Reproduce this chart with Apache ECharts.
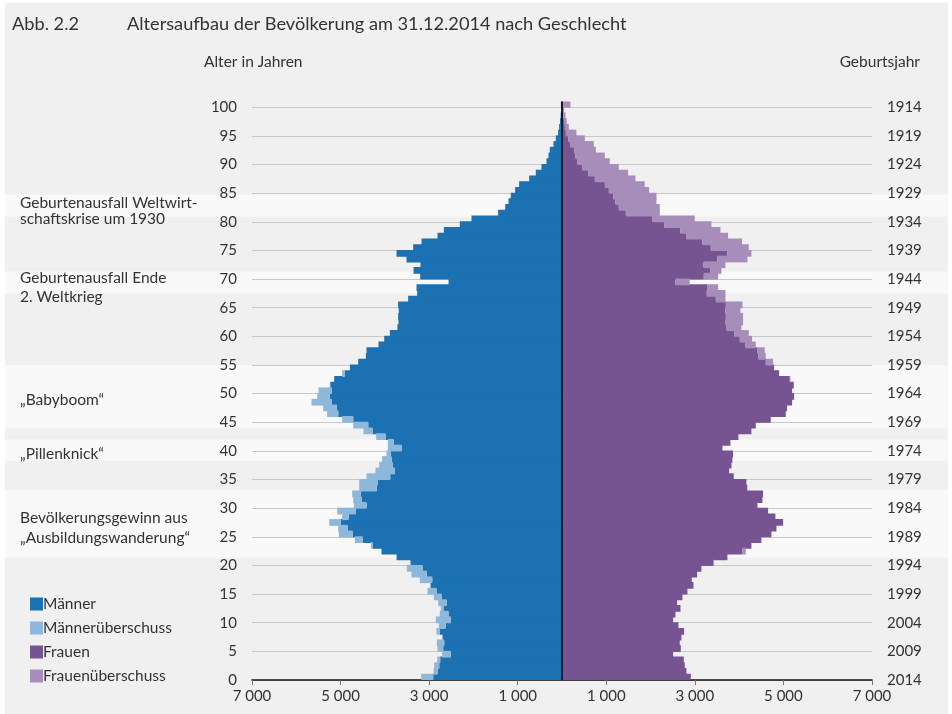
<!DOCTYPE html>
<html>
<head>
<meta charset="utf-8">
<title>Altersaufbau 2014</title>
<script src="https://cdn.jsdelivr.net/npm/echarts@6/dist/echarts.min.js"></script>
<style>
    body { margin: 0; background: #fff; }
    #main { position: absolute; left: 5px; top: 3px; width: 943px; height: 711px; background: #eff0ef; }
</style>
</head>
<body>
<div id="main"></div>
<script>
// Alter 0 bis 100 (Kategorien der y-Achse)
var alter = [];
for (var i = 0; i <= 100; i++) { alter.push(String(i)); }

// Maenner je Altersjahr (0..100)
var maenner = [
    3180, 2900, 2886, 2818, 2706, 2811, 2826, 2698, 2834, 2781,
    2849, 2759, 2736, 2796, 2894, 3037, 2970, 3210, 3398, 3504,
    3420, 3736, 4076, 4316, 4677, 5039, 5054, 5257, 4964, 5077,
    4700, 4715, 4737, 4579, 4579, 4414, 4211, 4128, 4061, 3963,
    3932, 3932, 4196, 4482, 4715, 4964, 5303, 5393, 5656, 5528,
    5498, 5242, 5144, 4964, 4790, 4602, 4429, 4414, 4143, 4015,
    3887, 3716, 3693, 3700, 3686, 3700, 3474, 3270, 3285, 2562,
    3202, 3353, 3195, 3511, 3736, 3360, 3172, 2811, 2668, 2307,
    2044, 1442, 1283, 1208, 1156, 1058, 968, 742, 591, 464,
    350, 305, 275, 193, 140, 87, 65, 45, 30, 20,
    25
];

// Frauen je Altersjahr (0..100)
var frauen = [
    2908, 2810, 2772, 2750, 2509, 2682, 2659, 2697, 2757, 2629,
    2509, 2562, 2675, 2599, 2720, 2833, 2968, 2930, 3051, 3148,
    3434, 3735, 4149, 4277, 4503, 4729, 4842, 4992, 4819, 4654,
    4413, 4525, 4540, 4183, 4164, 3878, 3773, 3826, 3848, 3863,
    3623, 3803, 3984, 4277, 4375, 4714, 5052, 5082, 5196, 5241,
    5196, 5233, 5158, 4902, 4789, 4766, 4601, 4578, 4375, 4292,
    4217, 4051, 4089, 4089, 4029, 4074, 3690, 3690, 3525, 2885,
    3525, 3600, 3690, 4187, 4277, 4217, 4066, 3750, 3577, 3374,
    2998, 2208, 2208, 2133, 2133, 1967, 1869, 1658, 1493, 1282,
    1079, 966, 763, 718, 515, 326, 154, 108, 78, 48,
    191
];

// Achsenbeschriftungen
var alterTicks = [0, 5, 10, 15, 20, 25, 30, 35, 40, 45, 50, 55, 60, 65, 70, 75, 80, 85, 90, 95, 100];
var xTicks = [-7000, -5000, -3000, -1000, 1000, 3000, 5000, 7000];
var stichjahr = 2014;

// hervorgehobene Altersbereiche (weisse Baender)
var baender = [[80.9, 84.7], [67.5, 71.3], [44, 55], [38.3, 42], [21.4, 33.2]];

// Anmerkungen links: [Text, Alter (Position)]
var anmerkungen = [
    ['Geburtenausfall Weltwirt-', 83.3],
    ['schaftskrise um 1930', 80.4],
    ['Geburtenausfall Ende', 70.2],
    ['2. Weltkrieg', 66.8],
    ['\u201EBabyboom\u201C', 48.9],
    ['\u201EPillenknick\u201C', 39.45],
    ['Bevölkerungsgewinn aus', 28.35],
    ['\u201EAusbildungswanderung\u201C', 24.85]
];

var farben = ['#1b71b2', '#8db8dc', '#765391', '#a68dba'];
var schrift = 'Lato, "Open Sans", sans-serif';

// gemeinsamer Teil und Ueberschuss je Geschlecht (kein Ueberschuss = leer)
var gemeinsam = maenner.map(function (m, i) { return Math.min(m, frauen[i]); });
var mUeber = maenner.map(function (m, i) { return m > frauen[i] ? m - frauen[i] : null; });
var fUeber = frauen.map(function (f, i) { return f > maenner[i] ? f - maenner[i] : null; });

var myChart = echarts.init(document.getElementById('main'));

function tausender(v) {
    return String(Math.abs(v)).replace(/\B(?=(\d{3})+(?!\d))/g, ' ');
}

// Balken etwas hoeher als das Band, damit keine Fugen zwischen den Altersjahren bleiben
var balkenBreite = '118%';

var option = {
    animation: false,
    backgroundColor: 'transparent',
    textStyle: { fontFamily: schrift },
    grid: { left: 247, right: 76, top: 98.5, bottom: 34 },
    legend: {
        orient: 'vertical',
        left: 25,
        top: 593,
        padding: 0,
        itemWidth: 13,
        itemHeight: 13,
        itemGap: 8,
        icon: 'rect',
        textStyle: { fontSize: 15.5, color: '#333', fontFamily: schrift, padding: [0, 0, 0, -5] },
        data: ['Männer', 'Männerüberschuss', 'Frauen', 'Frauenüberschuss']
    },
    xAxis: {
        type: 'value',
        min: -7000,
        max: 7000,
        axisLine: { show: true, lineStyle: { color: '#111', width: 1.5 } },
        axisTick: { show: true, length: 5, lineStyle: { color: '#777' }, customValues: xTicks },
        axisLabel: { customValues: xTicks, formatter: tausender, fontSize: 15, color: '#333', margin: 9 },
        splitLine: { show: false }
    },
    yAxis: [
        {
            type: 'category',
            data: alter,
            show: false
        },
        {
            type: 'value',
            min: 0,
            max: 101,
            position: 'left',
            axisLine: { show: false },
            axisTick: { show: false, customValues: alterTicks },
            axisLabel: { customValues: alterTicks, fontSize: 15, color: '#333', margin: 15 },
            splitLine: { show: true, lineStyle: { color: '#c8c8c8', width: 1 } }
        },
        {
            type: 'value',
            min: 0,
            max: 101,
            position: 'right',
            axisLine: { show: false },
            axisTick: { show: false, customValues: alterTicks },
            axisLabel: {
                customValues: alterTicks, fontSize: 15, color: '#333', margin: 15,
                formatter: function (v) { return String(stichjahr - v); }
            },
            splitLine: { show: false }
        }
    ],
    series: [
        {
            name: 'Männer', type: 'bar', stack: 'pyramide', barWidth: balkenBreite,
            itemStyle: { color: farben[0] },
            data: gemeinsam.map(function (v) { return -v; })
        },
        {
            name: 'Männerüberschuss', type: 'bar', stack: 'pyramide', barWidth: balkenBreite,
            itemStyle: { color: farben[1] },
            data: mUeber.map(function (v) { return v === null ? null : -v; })
        },
        {
            name: 'Frauen', type: 'bar', stack: 'pyramide', barWidth: balkenBreite,
            itemStyle: { color: farben[2] },
            data: gemeinsam,
            markLine: {
                silent: true,
                symbol: 'none',
                label: { show: false },
                lineStyle: { color: '#000', width: 1.5, type: 'solid' },
                data: [{ xAxis: 0 }]
            }
        },
        {
            name: 'Frauenüberschuss', type: 'bar', stack: 'pyramide', barWidth: balkenBreite,
            itemStyle: { color: farben[3] },
            data: fUeber
        }
    ]
};

myChart.setOption(option);

// Baender, Titel und Anmerkungen ueber die Achse positionieren
var grafik = [];
baender.forEach(function (b) {
    var yOben = myChart.convertToPixel({ yAxisIndex: 1 }, b[1]);
    var yUnten = myChart.convertToPixel({ yAxisIndex: 1 }, b[0]);
    grafik.push({
        type: 'rect', z: -10, silent: true,
        shape: { x: 0, y: yOben, width: 943, height: yUnten - yOben },
        style: { fill: '#f9f9f9' }
    });
});

function text(t, x, y, size, align) {
    return {
        type: 'text', silent: true,
        style: {
            text: t, x: x, y: y, fill: '#333',
            font: size + 'px ' + schrift,
            textAlign: align || 'left', textVerticalAlign: 'middle'
        }
    };
}

grafik.push(text('Abb. 2.2', 7, 21, 18.2));
grafik.push(text('Altersaufbau der Bevölkerung am 31.12.2014 nach Geschlecht', 122, 21, 18.2));
grafik.push(text('Alter in Jahren', 199, 59, 15.5));
grafik.push(text('Geburtsjahr', 915, 59, 15.5, 'right'));

anmerkungen.forEach(function (a) {
    grafik.push(text(a[0], 15, myChart.convertToPixel({ yAxisIndex: 1 }, a[1]), 15.5));
});

myChart.setOption({ graphic: grafik });
</script>
</body>
</html>
